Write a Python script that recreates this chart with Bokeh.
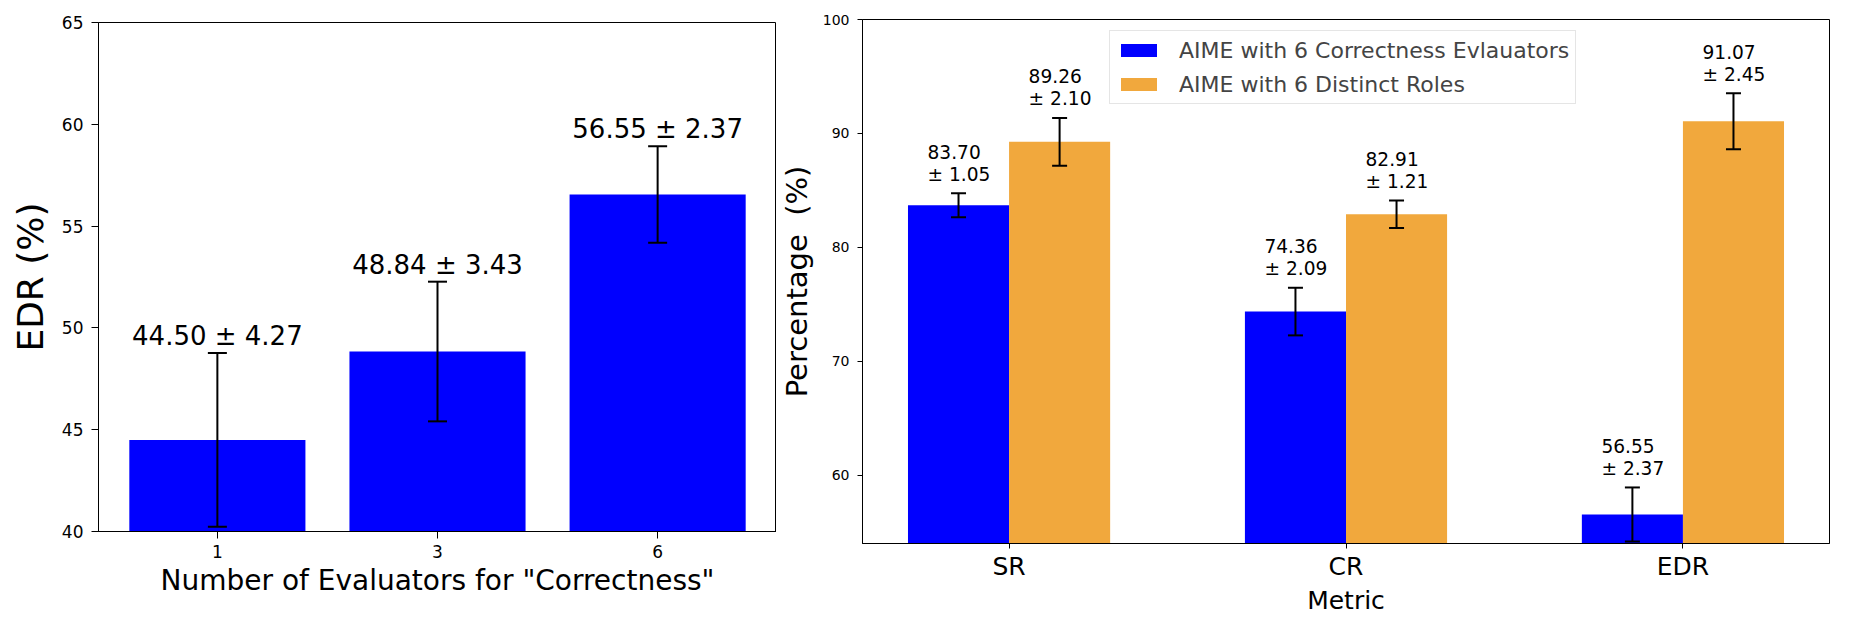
import numpy as np
from bokeh.plotting import figure
from bokeh.layouts import row, column
from bokeh.models import (ColumnDataSource, Whisker, TeeHead, FixedTicker,
                          Range1d, Legend, LegendItem)
from bokeh.core.properties import value
from bokeh.embed import file_html
from bokeh.resources import INLINE

# ---------------- data ----------------
evaluator_counts = ["1", "3", "6"]
edr_means = [44.50, 48.84, 56.55]
edr_errs = [4.27, 3.43, 2.37]
left_yticks = [40, 45, 50, 55, 60, 65]

metrics = ["SR", "CR", "EDR"]
correctness_means = [83.70, 74.36, 56.55]
correctness_errs = [1.05, 2.09, 2.37]
roles_means = [89.26, 82.91, 91.07]
roles_errs = [2.10, 1.21, 2.45]
right_yticks = [60, 70, 80, 90, 100]
series_names = ["AIME with 6 Correctness Evlauators", "AIME with 6 Distinct Roles"]

FONT = "DejaVu Sans"
BLUE = "#0000FF"
ORANGE = "#F1A83D"


def style_axes(p, tick_len, tick_font, label_font, xtick_font, xlabel_font):
    p.grid.visible = False
    p.outline_line_color = "black"
    p.outline_line_width = 1
    p.background_fill_color = "white"
    p.border_fill_color = "white"
    for ax in (p.xaxis[0], p.yaxis[0]):
        ax.axis_line_color = "black"
        ax.axis_line_width = 1
        ax.major_tick_line_color = "black"
        ax.major_tick_in = 0
        ax.major_tick_out = tick_len
        ax.minor_tick_line_color = None
        ax.major_label_text_font = FONT
        ax.axis_label_text_font = FONT
        ax.axis_label_text_font_style = "normal"
        ax.major_label_text_color = "black"
        ax.axis_label_text_color = "black"
    p.yaxis.major_label_text_font_size = tick_font
    p.yaxis.axis_label_text_font_size = label_font
    p.xaxis.major_label_text_font_size = xtick_font
    p.xaxis.axis_label_text_font_size = xlabel_font


# ---------------- left chart ----------------
xl = np.arange(len(evaluator_counts))
src_l = ColumnDataSource(dict(
    x=xl, top=edr_means,
    upper=np.array(edr_means) + np.array(edr_errs),
    lower=np.array(edr_means) - np.array(edr_errs),
    label=[f"{m:.2f} ± {e:.2f}" for m, e in zip(edr_means, edr_errs)],
))

p1 = figure(frame_width=678, frame_height=509, output_backend="svg",
            toolbar_location=None,
            x_range=Range1d(-0.54, 2.54), y_range=Range1d(40, 65),
            min_border_left=98, min_border_right=0, min_border_top=22,
            min_border_bottom=5)
p1.vbar(x="x", top="top", bottom=40, width=0.8, source=src_l,
        fill_color=BLUE, line_color=None)
p1.add_layout(Whisker(source=src_l, base="x", upper="upper", lower="lower",
                      line_width=2, line_color="black", level="overlay",
                      upper_head=TeeHead(size=19, line_width=2, line_color="black"),
                      lower_head=TeeHead(size=19, line_width=2, line_color="black")))
p1.text(x="x", y="upper", text="label", source=src_l, text_align="center",
        text_baseline="alphabetic", y_offset=-17, text_font=value(FONT),
        text_font_size="26px", text_color="black")
style_axes(p1, 7, "17px", "36px", "17px", "28px")
p1.xaxis.ticker = FixedTicker(ticks=list(xl))
p1.xaxis.major_label_overrides = {int(i): c for i, c in zip(xl, evaluator_counts)}
p1.yaxis.ticker = FixedTicker(ticks=left_yticks)
p1.xaxis.axis_label = 'Number of Evaluators for "Correctness"'
p1.yaxis.axis_label = "EDR (%)"
p1.yaxis.major_label_standoff = 8
p1.yaxis.axis_label_standoff = 8
p1.xaxis.major_label_standoff = 6
p1.xaxis.axis_label_standoff = 3

# ---------------- right chart ----------------
bw = 0.3
xr = np.arange(len(metrics))
src_a = ColumnDataSource(dict(
    x=xr - bw / 2, top=correctness_means,
    upper=np.array(correctness_means) + np.array(correctness_errs),
    lower=np.array(correctness_means) - np.array(correctness_errs),
    l1=[f"{m:.2f}" for m in correctness_means],
    l2=[f"± {e:.2f}" for e in correctness_errs],
))
src_b = ColumnDataSource(dict(
    x=xr + bw / 2, top=roles_means,
    upper=np.array(roles_means) + np.array(roles_errs),
    lower=np.array(roles_means) - np.array(roles_errs),
    l1=[f"{m:.2f}" for m in roles_means],
    l2=[f"± {e:.2f}" for e in roles_errs],
))

p2 = figure(frame_width=967, frame_height=524, output_backend="svg",
            toolbar_location=None,
            x_range=Range1d(-0.435, 2.435), y_range=Range1d(54.0, 100),
            min_border_left=86, min_border_right=12, min_border_top=19,
            min_border_bottom=5)
ra = p2.vbar(x="x", top="top", bottom=54.0, width=bw, source=src_a,
             fill_color=BLUE, line_color=None)
rb = p2.vbar(x="x", top="top", bottom=54.0, width=bw, source=src_b,
             fill_color=ORANGE, line_color=None)
for s in (src_a, src_b):
    p2.add_layout(Whisker(source=s, base="x", upper="upper", lower="lower",
                          line_width=2, line_color="black", level="overlay",
                          upper_head=TeeHead(size=15, line_width=2, line_color="black"),
                          lower_head=TeeHead(size=15, line_width=2, line_color="black")))
    p2.text(x="x", y="upper", text="l1", source=s, text_align="left",
            text_baseline="alphabetic", x_offset=-31, y_offset=-41.5,
            text_font=value(FONT), text_font_size="18.6px", text_color="black")
    p2.text(x="x", y="upper", text="l2", source=s, text_align="left",
            text_baseline="alphabetic", x_offset=-31, y_offset=-19,
            text_font=value(FONT), text_font_size="18.6px", text_color="black")

style_axes(p2, 5, "14px", "29px", "25px", "25px")
p2.xaxis.ticker = FixedTicker(ticks=list(xr))
p2.xaxis.major_label_overrides = {int(i): m for i, m in zip(xr, metrics)}
p2.yaxis.ticker = FixedTicker(ticks=right_yticks)
p2.xaxis.axis_label = "Metric"
p2.yaxis.axis_label = "Percentage\u00a0\u00a0(%)"
p2.yaxis.major_label_standoff = 8
p2.yaxis.axis_label_standoff = 6
p2.xaxis.major_label_standoff = 3
p2.xaxis.axis_label_standoff = 2

legend = Legend(items=[LegendItem(label=series_names[0], renderers=[ra]),
                       LegendItem(label=series_names[1], renderers=[rb])],
                location=(247, 439), orientation="vertical",
                label_text_font=FONT, label_text_font_size="22px",
                glyph_width=45, glyph_height=16, label_height=26,
                label_standoff=18, spacing=8, padding=6, margin=0,
                border_line_color="#cccccc", border_line_width=1,
                background_fill_color="white", background_fill_alpha=0.8)
p2.add_layout(legend)

layout = row(column(p1), column(p2))
open("out.html", "w").write(file_html(layout, INLINE))
